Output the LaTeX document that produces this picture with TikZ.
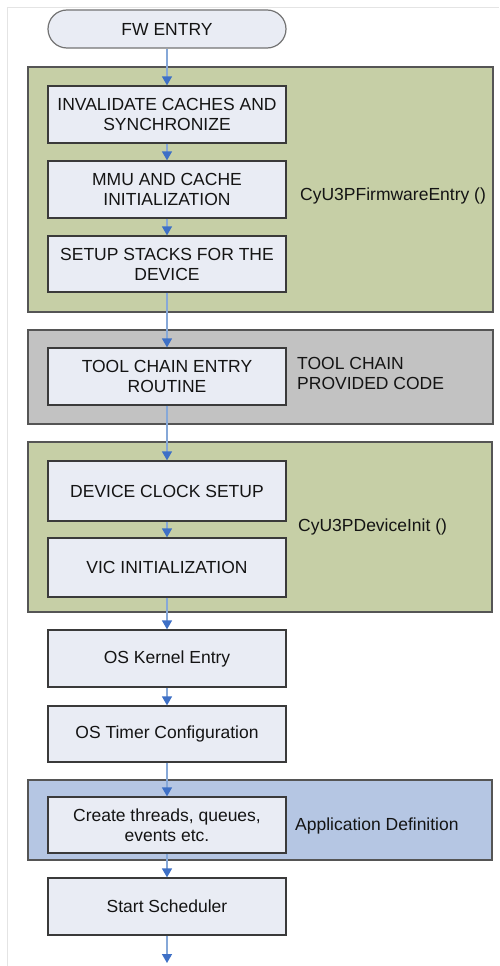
\documentclass[tikz,border=0pt]{standalone}
\usepackage{fontspec}
\setmainfont{Liberation Sans}
\usetikzlibrary{arrows.meta}
\definecolor{grpgreen}{HTML}{C6CFA6}
\definecolor{grpgray}{HTML}{C2C2C2}
\definecolor{grpblue}{HTML}{B5C6E3}
\definecolor{boxfill}{HTML}{E9ECF4}
\definecolor{boxline}{HTML}{3A3A3A}
\definecolor{grpline}{HTML}{555555}
\definecolor{linkblue}{HTML}{86A8D8}
\definecolor{tipblue}{HTML}{3E70C6}
\definecolor{frame}{HTML}{E4E4E4}
\begin{document}
\begin{tikzpicture}[x=1pt,y=-1pt,
  every node/.style={font=\fontsize{17.5}{20}\selectfont, text=black!92},
  stepbox/.style={draw=boxline, line width=1.3pt, fill=boxfill, minimum width=238pt, align=center, inner sep=2pt},
  grp/.style={draw=grpline, line width=1.3pt},
  lbl/.style={anchor=west, align=left, inner sep=0pt},
  arr/.style={draw=linkblue, line width=1.4pt, -{Triangle[width=10pt,length=9pt,fill=tipblue,color=tipblue]}}
]
\useasboundingbox (0,0) rectangle (499,966);
\fill[white] (0,0) rectangle (499,966);
\draw[frame, line width=1pt] (7.5,966) -- (7.5,7.5) -- (499,7.5);

% groups
\draw[grp, fill=grpgreen] (28,67) rectangle (493,312);
\draw[grp, fill=grpgray] (28,330) rectangle (493,424);
\draw[grp, fill=grpgreen] (28,442) rectangle (492,612);
\draw[grp, fill=grpblue] (28,780) rectangle (492,860);

% start
\node[draw=black!55, line width=1.2pt, fill=boxfill, rounded corners=19pt, minimum width=238pt, minimum height=38pt] (fw) at (167,29) {FW ENTRY};

% steps
\node[stepbox, minimum height=57pt] (inv) at (167,114.5) {INVALIDATE CACHES AND\\SYNCHRONIZE};
\node[stepbox, minimum height=57pt] (mmu) at (167,189.5) {MMU AND CACHE\\INITIALIZATION};
\node[stepbox, minimum height=56pt] (stk) at (167,264) {SETUP STACKS FOR THE\\DEVICE};
\node[stepbox, minimum height=57pt] (tool) at (167,376.5) {TOOL CHAIN ENTRY\\ROUTINE};
\node[stepbox, minimum height=60pt] (clk) at (167,491) {DEVICE CLOCK SETUP};
\node[stepbox, minimum height=59pt] (vic) at (167,567.5) {VIC INITIALIZATION};
\node[stepbox, minimum height=57pt] (osk) at (167,658.5) {OS Kernel Entry};
\node[stepbox, minimum height=56pt] (ost) at (167,734) {OS Timer Configuration};
\node[stepbox, minimum height=56pt] (cre) at (167,825) {Create threads, queues,\\events etc.};
\node[stepbox, minimum height=57pt] (sch) at (167,906.5) {Start Scheduler};
\coordinate (end) at (167,963);

% group labels
\node[lbl] (l1) at (300,196) {CyU3PFirmwareEntry ()};
\node[lbl] (l2) at (297,373) {TOOL CHAIN\\PROVIDED CODE};
\node[lbl] (l3) at (298,527) {CyU3PDeviceInit ()};
\node[lbl] (l4) at (295,826) {Application Definition};

% connectors
\draw[arr] (fw) -- (inv);
\draw[arr] (inv) -- (mmu);
\draw[arr] (mmu) -- (stk);
\draw[arr] (stk) -- (tool);
\draw[arr] (tool) -- (clk);
\draw[arr] (clk) -- (vic);
\draw[arr] (vic) -- (osk);
\draw[arr] (osk) -- (ost);
\draw[arr] (ost) -- (cre);
\draw[arr] (cre) -- (sch);
\draw[arr] (sch) -- (end);
\end{tikzpicture}
\end{document}
